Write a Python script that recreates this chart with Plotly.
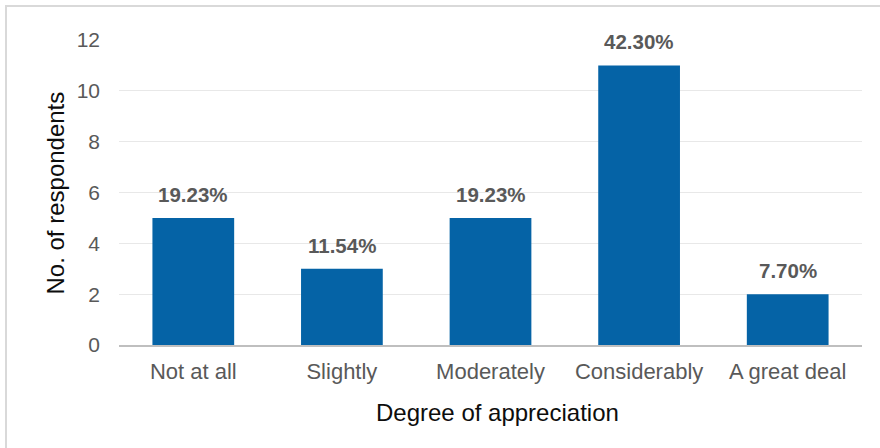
import plotly.graph_objects as go

# Survey results: how much the respondents appreciated it
categories = ["Not at all", "Slightly", "Moderately", "Considerably", "A great deal"]
respondents = [5, 3, 5, 11, 2]
share_labels = ["19.23%", "11.54%", "19.23%", "42.30%", "7.70%"]
y_ticks = [0, 2, 4, 6, 8, 10, 12]

FONT = "Liberation Sans, Arial, sans-serif"
BAR = "#0563a6"
GREY_TXT = "#595959"

# Plot-area edges in pixels, used for margins and paper-coordinate placement
L, R, T, B = 119, 862, 40, 345
W, H = R - L, B - T


def px_x(p):
    return (p - L) / W


def px_y(p):
    return (B - p) / H


fig = go.Figure(
    go.Bar(
        x=categories,
        y=respondents,
        marker=dict(color=BAR, line=dict(width=0)),
        width=0.55,
        hoverinfo="x+y",
    )
)

# Percentage labels sitting above each bar
for cat, val, lab in zip(categories, respondents, share_labels):
    fig.add_annotation(
        x=cat, y=val, text=f"<b>{lab}</b>", showarrow=False,
        xref="x", yref="y", xanchor="center", yanchor="bottom", yshift=10,
        font=dict(family=FONT, size=20.5, color=GREY_TXT),
    )

# Axis titles
fig.add_annotation(
    x=px_x(497), y=px_y(413), xref="paper", yref="paper",
    xanchor="center", yanchor="middle", text="Degree of appreciation",
    showarrow=False, font=dict(family=FONT, size=24, color="#0d0d0d"),
)
fig.add_annotation(
    x=px_x(55), y=px_y(193.5), xref="paper", yref="paper",
    xanchor="center", yanchor="middle", text="No. of respondents",
    showarrow=False, textangle=-90, font=dict(family=FONT, size=24, color="#0d0d0d"),
)

# Light grey outer frame around the chart
fig.add_shape(
    type="rect", xref="paper", yref="paper",
    x0=px_x(6), x1=px_x(884), y0=px_y(6), y1=px_y(452),
    line=dict(color="#d9d9d9", width=2), fillcolor="rgba(0,0,0,0)", layer="below",
)

fig.update_layout(
    width=880, height=448,
    margin=dict(l=L, r=880 - R, t=T, b=448 - B),
    paper_bgcolor="white", plot_bgcolor="white",
    showlegend=False, bargap=0.45,
    font=dict(family=FONT, color=GREY_TXT),
    xaxis=dict(
        showline=True, linecolor="#bfbfbf", linewidth=2,
        ticks="", showgrid=False,
        tickfont=dict(family=FONT, size=22, color=GREY_TXT),
        ticklabelstandoff=6,
    ),
    yaxis=dict(
        range=[0, 12], tickvals=y_ticks, ticks="",
        showgrid=True, gridcolor="#e8e8e8", gridwidth=1,
        zeroline=False, showline=False,
        tickfont=dict(family=FONT, size=21, color=GREY_TXT),
        ticklabelstandoff=18,
    ),
)

fig.write_html("out.html")
